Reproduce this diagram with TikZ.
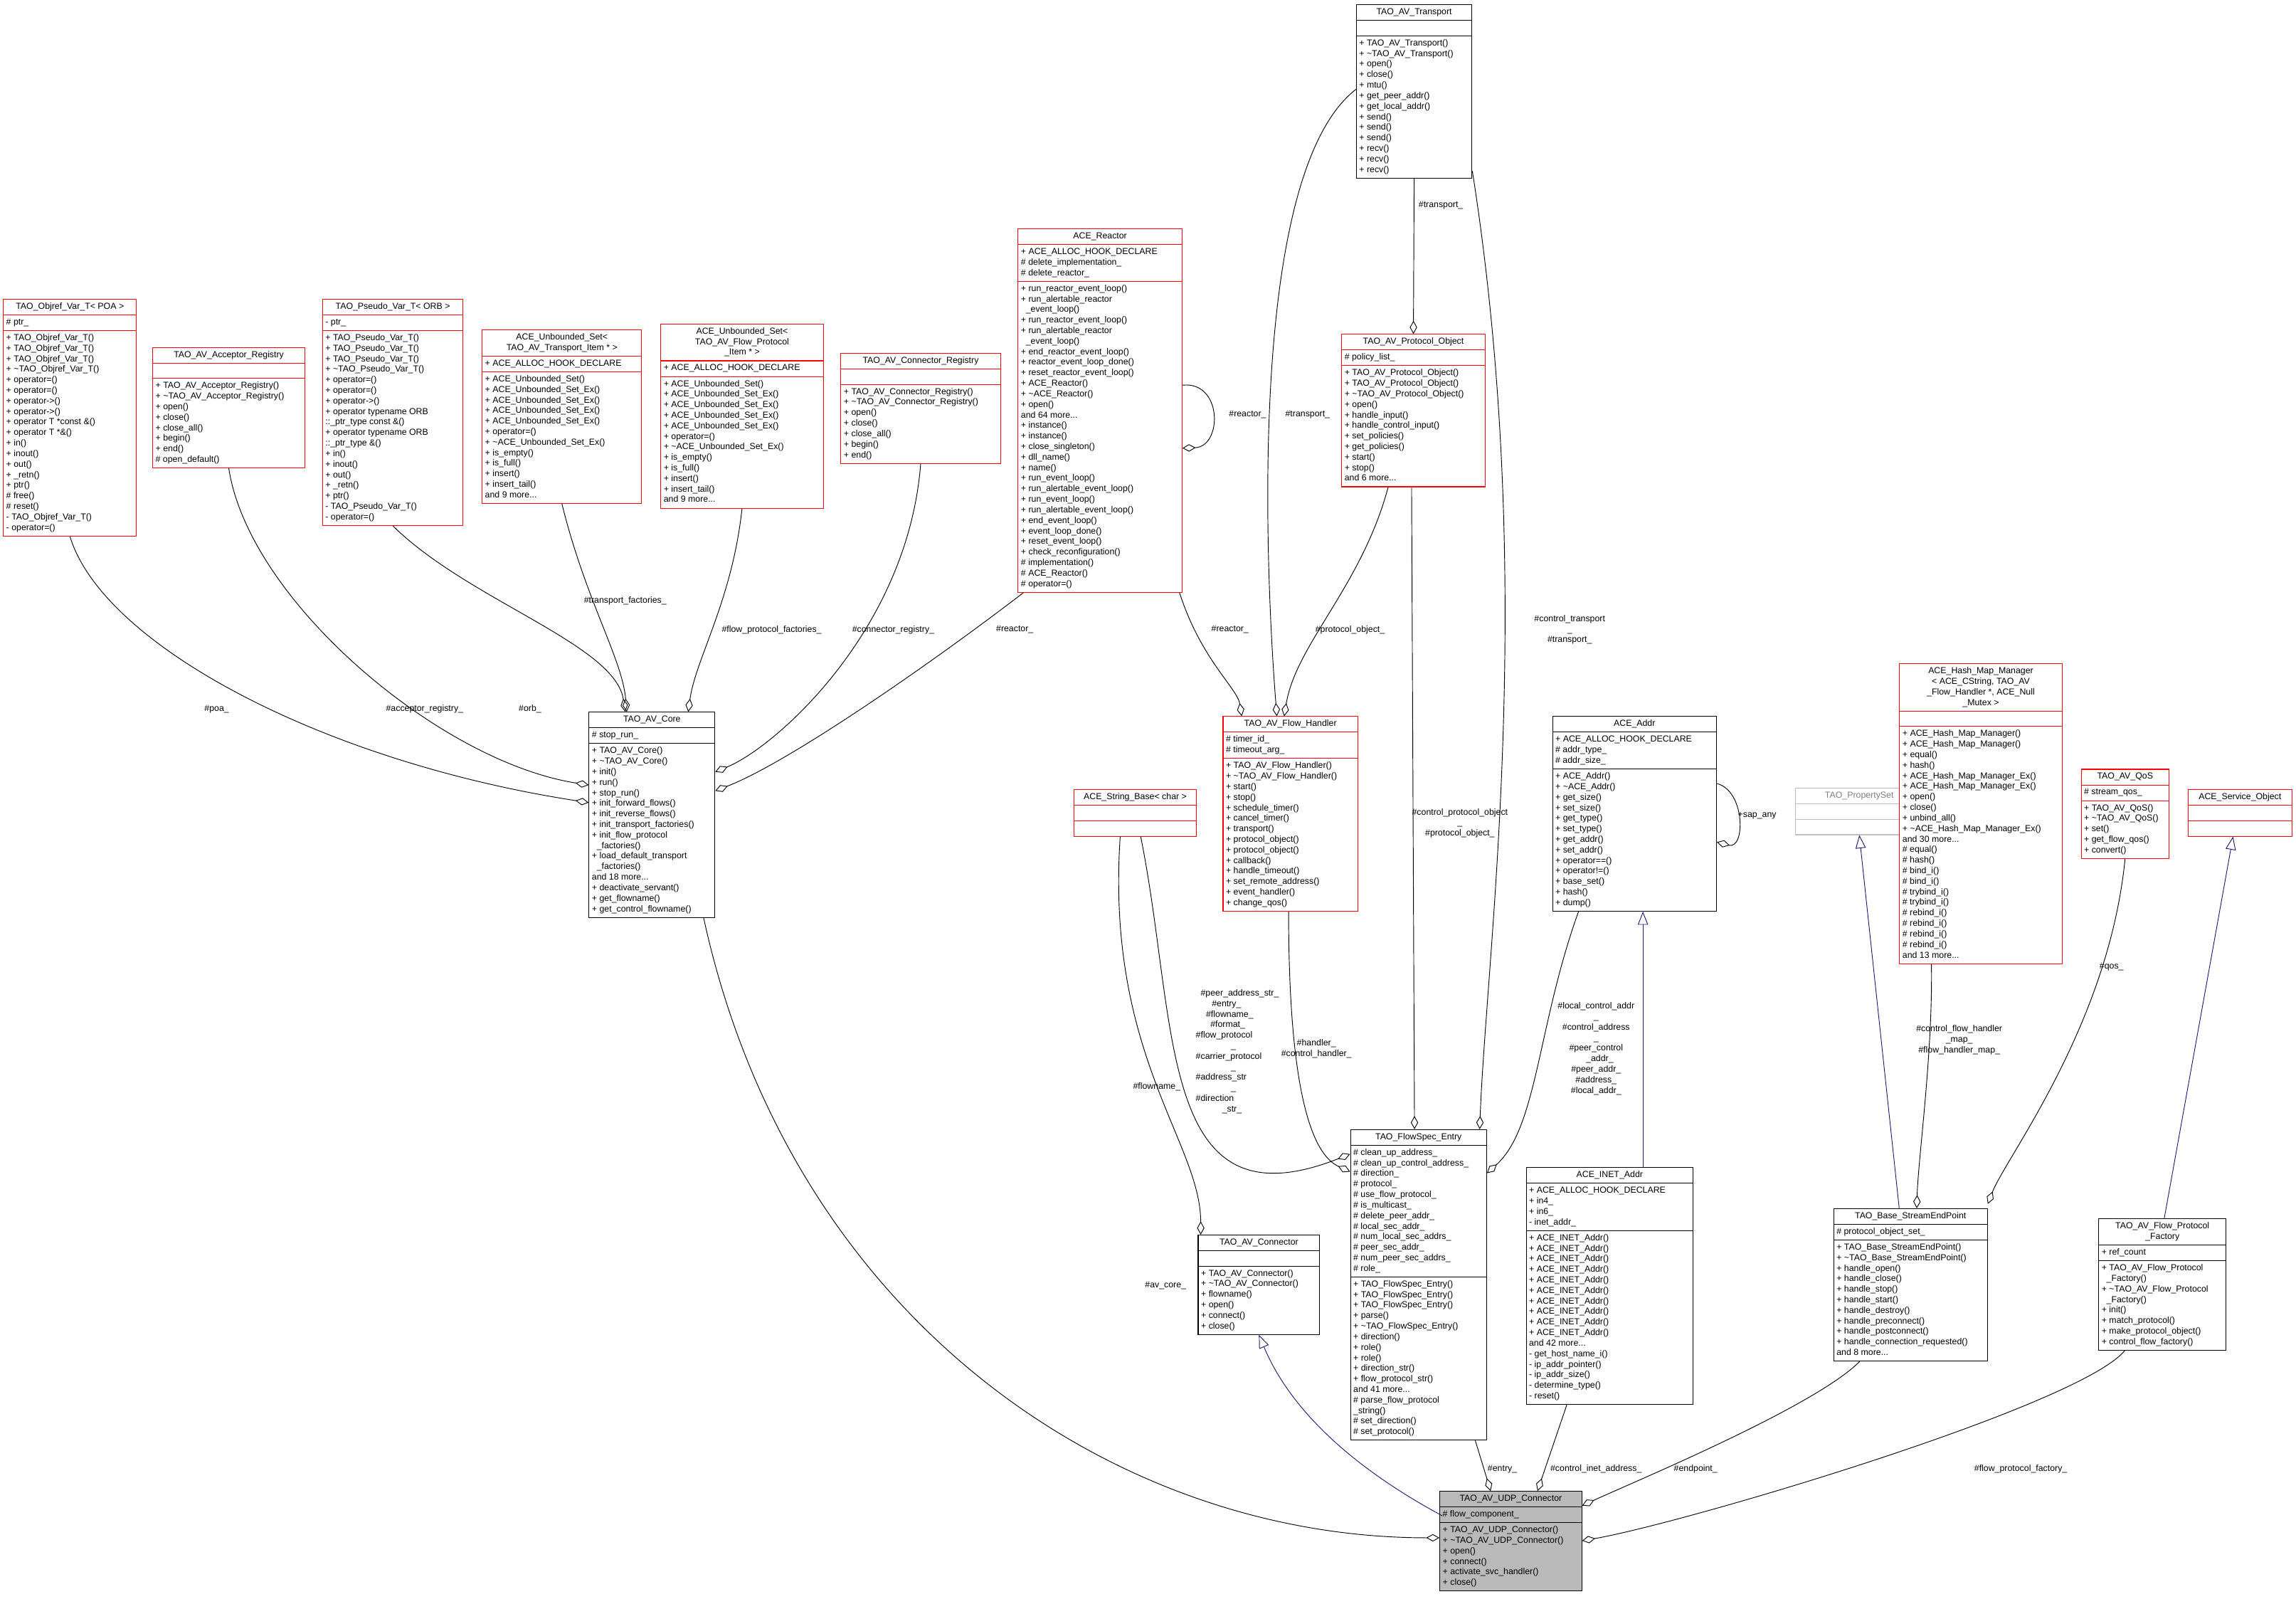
\documentclass[tikz,border=0pt]{standalone}
\usepackage{fontspec}
\setmainfont{Liberation Sans}
\usetikzlibrary{shapes.multipart,arrows.meta,calc}
\definecolor{navy}{RGB}{25,25,112}
\newcommand{\umlfont}{\fontsize{6}{7.2}\selectfont}
\newcommand{\ttl}[1]{\begin{tabular}{@{}c@{}}#1\end{tabular}}
\newcommand{\lst}[1]{\begin{tabular}{@{}l@{}}#1\end{tabular}}
\newcommand{\dt}{\textasciitilde}
\tikzset{
   umlClass/.style = {
         rectangle split,
         rectangle split parts = 3,
         rectangle split part align = {center,left,left},
         rectangle split empty part height = 7pt,
         draw = #1,
         anchor = north west,
         inner xsep = 2pt,
         inner ysep = 1.5pt,
         fill = white,
         font = \umlfont,
         line width = 0.5pt,
      },
   umlClass/.default = black,
   umlLink/.style = {
         draw,
         line width = 0.45pt,
         -{Diamond[open,length=9pt,width=5pt]},
      },
   umlInherit/.style = {
         draw = navy,
         line width = 0.45pt,
         -{Triangle[open,length=9pt,width=7pt]},
      },
   umlLabel/.style = {
         font = \umlfont,
         align = center,
         inner sep = 0pt,
      },
}

\begin{document}
\catcode`\_=12
\catcode`\#=12
\begin{tikzpicture}[x=1pt, y=-1pt]
\useasboundingbox (0,0) rectangle (1568,1095);

% Place classes
\node [umlClass, minimum width=79] (transport) at (926,3)
   {\ttl{TAO_AV_Transport}\nodepart{second}\nodepart{third}\lst{+ TAO_AV_Transport()\\+ \dt TAO_AV_Transport()\\+ open()\\+ close()\\+ mtu()\\+ get_peer_addr()\\+ get_local_addr()\\+ send()\\+ send()\\+ send()\\+ recv()\\+ recv()\\+ recv()}};

\node [umlClass=red, minimum width=91] (objref) at (2,204)
   {\ttl{TAO_Objref_Var_T< POA >}\nodepart{second}\lst{# ptr_}\nodepart{third}\lst{+ TAO_Objref_Var_T()\\+ TAO_Objref_Var_T()\\+ TAO_Objref_Var_T()\\+ \dt TAO_Objref_Var_T()\\+ operator=()\\+ operator=()\\+ operator->()\\+ operator->()\\+ operator T *const \&()\\+ operator T *\&()\\+ in()\\+ inout()\\+ out()\\+ _retn()\\+ ptr()\\# free()\\# reset()\\- TAO_Objref_Var_T()\\- operator=()}};

\node [umlClass=red, minimum width=104] (acceptor) at (104,237)
   {\ttl{TAO_AV_Acceptor_Registry}\nodepart{second}\nodepart{third}\lst{+ TAO_AV_Acceptor_Registry()\\+ \dt TAO_AV_Acceptor_Registry()\\+ open()\\+ close()\\+ close_all()\\+ begin()\\+ end()\\# open_default()}};

\node [umlClass=red, minimum width=96] (pseudo) at (220,204)
   {\ttl{TAO_Pseudo_Var_T< ORB >}\nodepart{second}\lst{- ptr_}\nodepart{third}\lst{+ TAO_Pseudo_Var_T()\\+ TAO_Pseudo_Var_T()\\+ TAO_Pseudo_Var_T()\\+ \dt TAO_Pseudo_Var_T()\\+ operator=()\\+ operator=()\\+ operator->()\\+ operator typename ORB\\::_ptr_type const \&()\\+ operator typename ORB\\::_ptr_type \&()\\+ in()\\+ inout()\\+ out()\\+ _retn()\\+ ptr()\\- TAO_Pseudo_Var_T()\\- operator=()}};

\node [umlClass=red, minimum width=109] (transportSet) at (329,225)
   {\ttl{ACE_Unbounded_Set<\\TAO_AV_Transport_Item * >}\nodepart{second}\lst{+ ACE_ALLOC_HOOK_DECLARE}\nodepart{third}\lst{+ ACE_Unbounded_Set()\\+ ACE_Unbounded_Set_Ex()\\+ ACE_Unbounded_Set_Ex()\\+ ACE_Unbounded_Set_Ex()\\+ ACE_Unbounded_Set_Ex()\\+ operator=()\\+ \dt ACE_Unbounded_Set_Ex()\\+ is_empty()\\+ is_full()\\+ insert()\\+ insert_tail()\\and 9 more...}};

\node [umlClass=red, minimum width=111] (protocolSet) at (451,221)
   {\ttl{ACE_Unbounded_Set<\\TAO_AV_Flow_Protocol\\_Item * >}\nodepart{second}\lst{+ ACE_ALLOC_HOOK_DECLARE}\nodepart{third}\lst{+ ACE_Unbounded_Set()\\+ ACE_Unbounded_Set_Ex()\\+ ACE_Unbounded_Set_Ex()\\+ ACE_Unbounded_Set_Ex()\\+ ACE_Unbounded_Set_Ex()\\+ operator=()\\+ \dt ACE_Unbounded_Set_Ex()\\+ is_empty()\\+ is_full()\\+ insert()\\+ insert_tail()\\and 9 more...}};

\node [umlClass=red, minimum width=109] (connector) at (574,241)
   {\ttl{TAO_AV_Connector_Registry}\nodepart{second}\nodepart{third}\lst{+ TAO_AV_Connector_Registry()\\+ \dt TAO_AV_Connector_Registry()\\+ open()\\+ close()\\+ close_all()\\+ begin()\\+ end()}};

\node [umlClass=red, minimum width=112] (reactor) at (695,156)
   {\ttl{ACE_Reactor}\nodepart{second}\lst{+ ACE_ALLOC_HOOK_DECLARE\\# delete_implementation_\\# delete_reactor_}\nodepart{third}\lst{+ run_reactor_event_loop()\\+ run_alertable_reactor\\\ \ _event_loop()\\+ run_reactor_event_loop()\\+ run_alertable_reactor\\\ \ _event_loop()\\+ end_reactor_event_loop()\\+ reactor_event_loop_done()\\+ reset_reactor_event_loop()\\+ ACE_Reactor()\\+ \dt ACE_Reactor()\\+ open()\\and 64 more...\\+ instance()\\+ instance()\\+ close_singleton()\\+ dll_name()\\+ name()\\+ run_event_loop()\\+ run_alertable_event_loop()\\+ run_event_loop()\\+ run_alertable_event_loop()\\+ end_event_loop()\\+ event_loop_done()\\+ reset_event_loop()\\+ check_reconfiguration()\\# implementation()\\# ACE_Reactor()\\# operator=()}};

\node [umlClass=red, minimum width=98] (protocol) at (916,228)
   {\ttl{TAO_AV_Protocol_Object}\nodepart{second}\lst{# policy_list_}\nodepart{third}\lst{+ TAO_AV_Protocol_Object()\\+ TAO_AV_Protocol_Object()\\+ \dt TAO_AV_Protocol_Object()\\+ open()\\+ handle_input()\\+ handle_control_input()\\+ set_policies()\\+ get_policies()\\+ start()\\+ stop()\\and 6 more...}};

\node [umlClass, minimum width=86] (core) at (402,486)
   {\ttl{TAO_AV_Core}\nodepart{second}\lst{# stop_run_}\nodepart{third}\lst{+ TAO_AV_Core()\\+ \dt TAO_AV_Core()\\+ init()\\+ run()\\+ stop_run()\\+ init_forward_flows()\\+ init_reverse_flows()\\+ init_transport_factories()\\+ init_flow_protocol\\\ \ _factories()\\+ load_default_transport\\\ \ _factories()\\and 18 more...\\+ deactivate_servant()\\+ get_flowname()\\+ get_control_flowname()}};

\node [umlClass=red, minimum width=92] (handler) at (835,489)
   {\ttl{TAO_AV_Flow_Handler}\nodepart{second}\lst{# timer_id_\\# timeout_arg_}\nodepart{third}\lst{+ TAO_AV_Flow_Handler()\\+ \dt TAO_AV_Flow_Handler()\\+ start()\\+ stop()\\+ schedule_timer()\\+ cancel_timer()\\+ transport()\\+ protocol_object()\\+ protocol_object()\\+ callback()\\+ handle_timeout()\\+ set_remote_address()\\+ event_handler()\\+ change_qos()}};

\node [umlClass=red, minimum width=84] (string) at (733,539)
   {\ttl{ACE_String_Base< char >}\nodepart{second}\nodepart{third}};

\node [umlClass, minimum width=112] (addr) at (1060,489)
   {\ttl{ACE_Addr}\nodepart{second}\lst{+ ACE_ALLOC_HOOK_DECLARE\\# addr_type_\\# addr_size_}\nodepart{third}\lst{+ ACE_Addr()\\+ \dt ACE_Addr()\\+ get_size()\\+ set_size()\\+ get_type()\\+ set_type()\\+ get_addr()\\+ set_addr()\\+ operator==()\\+ operator!=()\\+ base_set()\\+ hash()\\+ dump()}};

\node [umlClass=gray!50, text=gray, minimum width=87] (propset) at (1226,538)
   {\ttl{TAO_PropertySet}\nodepart{second}\nodepart{third}};

\node [umlClass=red, minimum width=111] (hashmap) at (1297,453)
   {\ttl{ACE_Hash_Map_Manager\\< ACE_CString, TAO_AV\\_Flow_Handler *, ACE_Null\\_Mutex >}\nodepart{second}\nodepart{third}\lst{+ ACE_Hash_Map_Manager()\\+ ACE_Hash_Map_Manager()\\+ equal()\\+ hash()\\+ ACE_Hash_Map_Manager_Ex()\\+ ACE_Hash_Map_Manager_Ex()\\+ open()\\+ close()\\+ unbind_all()\\+ \dt ACE_Hash_Map_Manager_Ex()\\and 30 more...\\# equal()\\# hash()\\# bind_i()\\# bind_i()\\# trybind_i()\\# trybind_i()\\# rebind_i()\\# rebind_i()\\# rebind_i()\\# rebind_i()\\and 13 more...}};

\node [umlClass=red, minimum width=60] (qos) at (1421,525)
   {\ttl{TAO_AV_QoS}\nodepart{second}\lst{# stream_qos_}\nodepart{third}\lst{+ TAO_AV_QoS()\\+ \dt TAO_AV_QoS()\\+ set()\\+ get_flow_qos()\\+ convert()}};

\node [umlClass=red, minimum width=71] (service) at (1494,539)
   {\ttl{ACE_Service_Object}\nodepart{second}\nodepart{third}};

\node [umlClass, minimum width=93] (entry) at (922,771)
   {\ttl{TAO_FlowSpec_Entry}\nodepart{second}\lst{# clean_up_address_\\# clean_up_control_address_\\# direction_\\# protocol_\\# use_flow_protocol_\\# is_multicast_\\# delete_peer_addr_\\# local_sec_addr_\\# num_local_sec_addrs_\\# peer_sec_addr_\\# num_peer_sec_addrs_\\# role_}\nodepart{third}\lst{+ TAO_FlowSpec_Entry()\\+ TAO_FlowSpec_Entry()\\+ TAO_FlowSpec_Entry()\\+ parse()\\+ \dt TAO_FlowSpec_Entry()\\+ direction()\\+ role()\\+ role()\\+ direction_str()\\+ flow_protocol_str()\\and 41 more...\\# parse_flow_protocol\\\_string()\\# set_direction()\\# set_protocol()}};

\node [umlClass, minimum width=114] (inet) at (1042,797)
   {\ttl{ACE_INET_Addr}\nodepart{second}\lst{+ ACE_ALLOC_HOOK_DECLARE\\+ in4_\\+ in6_\\- inet_addr_}\nodepart{third}\lst{+ ACE_INET_Addr()\\+ ACE_INET_Addr()\\+ ACE_INET_Addr()\\+ ACE_INET_Addr()\\+ ACE_INET_Addr()\\+ ACE_INET_Addr()\\+ ACE_INET_Addr()\\+ ACE_INET_Addr()\\+ ACE_INET_Addr()\\+ ACE_INET_Addr()\\and 42 more...\\- get_host_name_i()\\- ip_addr_pointer()\\- ip_addr_size()\\- determine_type()\\- reset()}};

\node [umlClass, minimum width=83] (avconn) at (818,843)
   {\ttl{TAO_AV_Connector}\nodepart{second}\nodepart{third}\lst{+ TAO_AV_Connector()\\+ \dt TAO_AV_Connector()\\+ flowname()\\+ open()\\+ connect()\\+ close()}};

\node [umlClass, minimum width=105] (endpoint) at (1252,825)
   {\ttl{TAO_Base_StreamEndPoint}\nodepart{second}\lst{# protocol_object_set_}\nodepart{third}\lst{+ TAO_Base_StreamEndPoint()\\+ \dt TAO_Base_StreamEndPoint()\\+ handle_open()\\+ handle_close()\\+ handle_stop()\\+ handle_start()\\+ handle_destroy()\\+ handle_preconnect()\\+ handle_postconnect()\\+ handle_connection_requested()\\and 8 more...}};

\node [umlClass, minimum width=87] (factory) at (1433,832)
   {\ttl{TAO_AV_Flow_Protocol\\_Factory}\nodepart{second}\lst{+ ref_count}\nodepart{third}\lst{+ TAO_AV_Flow_Protocol\\\ \ _Factory()\\+ \dt TAO_AV_Flow_Protocol\\\ \ _Factory()\\+ init()\\+ match_protocol()\\+ make_protocol_object()\\+ control_flow_factory()}};

\node [umlClass, fill=gray!55, minimum width=97] (udp) at (983,1018)
   {\ttl{TAO_AV_UDP_Connector}\nodepart{second}\lst{# flow_component_}\nodepart{third}\lst{+ TAO_AV_UDP_Connector()\\+ \dt TAO_AV_UDP_Connector()\\+ open()\\+ connect()\\+ activate_svc_handler()\\+ close()}};

% Draw edges
\path [umlLink] (objref.south) .. controls (70,440) and (220,520) .. ($(core.north west)+(0,62)$);
\path [umlLink] (acceptor.south) .. controls (170,410) and (300,520) .. ($(core.north west)+(0,50)$);
\path [umlLink] (pseudo.south) .. controls (320,410) and (420,440) .. ($(core.north west)+(25,0)$);
\path [umlLink] (transportSet.south) .. controls (400,410) and (425,450) .. ($(core.north west)+(26,0)$);
\path [umlLink] (protocolSet.south) .. controls (500,410) and (475,450) .. ($(core.north west)+(68,0)$);
\path [umlLink] (connector.south) .. controls (620,430) and (530,510) .. ($(core.north east)+(0,41)$);
\path [umlLink] ($(reactor.south west)+(4,0)$) .. controls (640,450) and (540,520) .. ($(core.north east)+(0,54)$);
\path [umlLink] ($(reactor.north east)+(0,107)$) .. controls (835,260) and (835,305) .. ($(reactor.north east)+(0,150)$);
\path [umlLink] ($(reactor.south east)+(-2,0)$) .. controls (820,450) and (845,470) .. ($(handler.north west)+(13,0)$);
\path [umlLink] ($(transport.north west)+(0,58)$) .. controls (850,120) and (865,400) .. ($(handler.north west)+(37,0)$);
\path [umlLink] ($(protocol.south west)+(32,0)$) .. controls (930,400) and (885,440) .. ($(handler.north west)+(42,0)$);
\path [umlLink] (transport.south) -- (protocol.north);
\path [umlLink] ($(transport.south east)+(0,-5)$) .. controls (1050,400) and (1015,650) .. ($(entry.north east)+(-5,0)$);
\path [umlLink] ($(protocol.south west)+(48,0)$) -- ($(entry.north west)+(44,0)$);
\path [umlLink] ($(handler.south west)+(45,0)$) .. controls (880,760) and (900,790) .. ($(entry.north west)+(0,29)$);
\path [umlLink] ($(string.south west)+(46,0)$) .. controls (805,700) and (790,840) .. ($(entry.north west)+(0,17)$);
\path [umlLink] ($(string.south west)+(32,0)$) .. controls (755,720) and (820,780) .. ($(avconn.north west)+(2,0)$);
\path [umlLink] ($(addr.south west)+(18,0)$) .. controls (1050,700) and (1050,770) .. ($(entry.north east)+(0,30)$);
\path [umlLink] ($(hashmap.south west)+(22,0)$) .. controls (1320,720) and (1310,790) .. ($(endpoint.north west)+(57,0)$);
\path [umlLink] (qos.south) .. controls (1440,700) and (1370,790) .. ($(endpoint.north east)+(0,-3)$);
\path [umlLink] ($(core.south east)+(-8,0)$) .. controls (540,900) and (760,1050) .. ($(udp.north west)+(0,32)$);
\path [umlLink] ($(entry.south east)+(-8,0)$) -- ($(udp.north west)+(35,0)$);
\path [umlLink] ($(inet.south west)+(28,0)$) -- ($(udp.north west)+(67,0)$);
\path [umlLink] ($(endpoint.south west)+(18,0)$) .. controls (1240,960) and (1120,1010) .. ($(udp.north east)+(0,10)$);
\path [umlLink] ($(factory.south west)+(18,0)$) .. controls (1420,960) and (1150,1040) .. ($(udp.north east)+(0,34)$);
\path [umlLink] ($(addr.north east)+(0,46)$) .. controls (1192,540) and (1192,580) .. ($(addr.north east)+(0,86)$);

\path [umlInherit] ($(inet.north west)+(80,0)$) -- ($(addr.south west)+(62,0)$);
\path [umlInherit] ($(endpoint.north west)+(45,0)$) -- (propset.south);
\path [umlInherit] ($(factory.north west)+(45,0)$) -- ($(service.south west)+(31,0)$);
\path [umlInherit] ($(udp.north west)+(2,17)$) .. controls (920,1000) and (880,960) .. (avconn.south);

% Place labels
\node [umlLabel] (lpoa) at (148,484) {#poa_};
\node [umlLabel] (lacc) at (290,484) {#acceptor_registry_};
\node [umlLabel] (lorb) at (362,484) {#orb_};
\node [umlLabel] (ltrf) at (427,410) {#transport_factories_};
\node [umlLabel] (lflf) at (527,430) {#flow_protocol_factories_};
\node [umlLabel] (lcon) at (610,430) {#connector_registry_};
\node [umlLabel] (lrea1) at (693,430) {#reactor_};
\node [umlLabel] (lrea2) at (852,283) {#reactor_};
\node [umlLabel] (lrea3) at (840,430) {#reactor_};
\node [umlLabel] (ltra1) at (893,283) {#transport_};
\node [umlLabel] (lpro) at (922,430) {#protocol_object_};
\node [umlLabel] (ltra2) at (984,140) {#transport_};
\node [umlLabel] (ltra3) at (1072,430) {#control_transport\\_\\#transport_};
\node [umlLabel] (lpro2) at (997,562) {#control_protocol_object\\_\\#protocol_object_};
\node [umlLabel] (lhan) at (899,716) {#handler_\\#control_handler_};
\node [umlLabel, align=left] (lstr) at (845,718) {\ \ #peer_address_str_\\\hspace{11pt}#entry_\\\hspace{7pt}#flowname_\\\hspace{10pt}#format_\\#flow_protocol\\\hspace{24pt}_\\#carrier_protocol\\\hspace{24pt}_\\#address_str\\\hspace{24pt}_\\#direction\\\hspace{18pt}_str_};
\node [umlLabel] (lfln) at (790,742) {#flowname_};
\node [umlLabel] (ladr) at (1090,716) {#local_control_addr\\_\\#control_address\\_\\#peer_control\\\ \ \ _addr_\\#peer_addr_\\#address_\\#local_addr_};
\node [umlLabel] (lsap) at (1200,557) {+sap_any};
\node [umlLabel] (lhmp) at (1338,710) {#control_flow_handler\\_map_\\#flow_handler_map_};
\node [umlLabel] (lqos) at (1442,660) {#qos_};
\node [umlLabel] (lcore) at (796,878) {#av_core_};
\node [umlLabel] (lent) at (1026,1003) {#entry_};
\node [umlLabel] (linet) at (1090,1003) {#control_inet_address_};
\node [umlLabel] (lend) at (1158,1003) {#endpoint_};
\node [umlLabel] (lfac) at (1380,1003) {#flow_protocol_factory_};

\end{tikzpicture}
\end{document}
